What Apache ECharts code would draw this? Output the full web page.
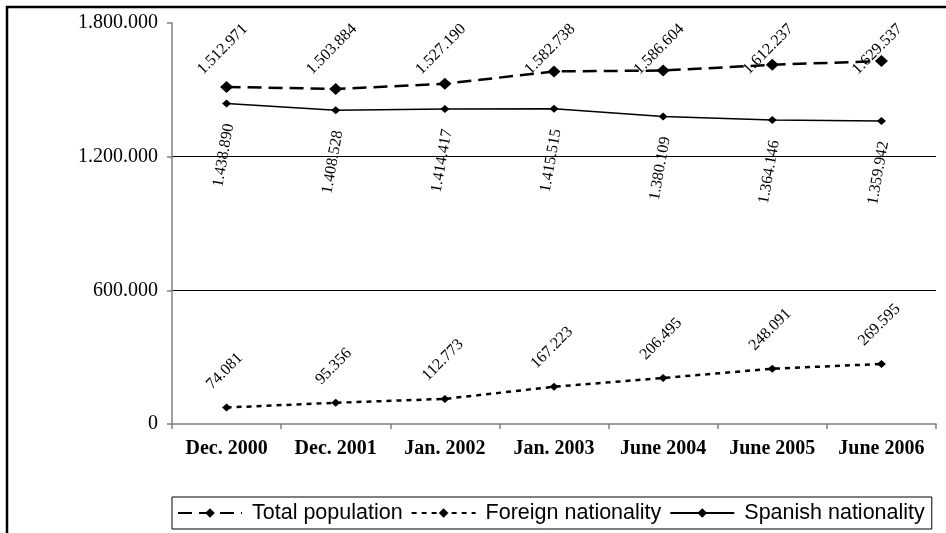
<!DOCTYPE html>
<html>
<head>
<meta charset="utf-8">
<script src="https://cdn.jsdelivr.net/npm/echarts@6/dist/echarts.min.js"></script>
<style>html,body{margin:0;padding:0;background:#fff}#c{width:946px;height:533px}</style>
</head>
<body>
<div id="c"></div>
<script>
const categories = ['Dec. 2000', 'Dec. 2001', 'Jan. 2002', 'Jan. 2003', 'June 2004', 'June 2005', 'June 2006'];
const totalPopulation = [1512971, 1503884, 1527190, 1582738, 1586604, 1612237, 1629537];
const foreignNationality = [74081, 95356, 112773, 167223, 206495, 248091, 269595];
const spanishNationality = [1438890, 1408528, 1414417, 1415515, 1380109, 1364146, 1359942];
const seriesNames = ['Total population', 'Foreign nationality', 'Spanish nationality'];
const yMin = 0, yMax = 1800000, yInterval = 600000;

function fmt(v) { return String(v).replace(/\B(?=(\d{3})+(?!\d))/g, '.'); }

const GRID_TOP = 23;
const serif = 'Liberation Serif, Times New Roman, serif';
const sans = 'Liberation Sans, Arial, sans-serif';

const chart = echarts.init(document.getElementById('c'), null, {renderer: 'canvas'});

const baseLabel = {show: true, formatter: p => fmt(p.value), fontFamily: serif, fontSize: 16, color: '#000', align: 'center', verticalAlign: 'middle'};

chart.setOption({
  animation: false,
  backgroundColor: '#fff',
  grid: {left: 172, right: 10, top: GRID_TOP, bottom: 109, containLabel: false},
  graphic: [{type: 'rect', shape: {x: 7, y: 7, width: 980, height: 580}, style: {fill: 'none', stroke: '#000', lineWidth: 2.5}, silent: true}],
  legend: {
    left: 172, top: 497,
    data: seriesNames,
    itemWidth: 64, itemHeight: 12, itemGap: 8,
    padding: [5, 7, 5, 5],
    borderColor: '#000', borderWidth: 1, borderRadius: 0,
    textStyle: {fontFamily: sans, fontSize: 21.5, color: '#000', padding: [0, 0, 0, 5]},
    selectedMode: false
  },
  xAxis: {
    type: 'category', data: categories, boundaryGap: true,
    axisLine: {lineStyle: {color: '#808080', width: 1.5}},
    axisTick: {show: true, length: 5, lineStyle: {color: '#808080', width: 1.5}},
    axisLabel: {fontFamily: serif, fontWeight: 'bold', fontSize: 20, color: '#000', margin: 15, interval: 0},
    splitLine: {show: false}
  },
  yAxis: {
    type: 'value', min: yMin, max: yMax, interval: yInterval,
    axisLine: {show: true, lineStyle: {color: '#808080', width: 1.5}},
    axisTick: {show: true, length: 5, lineStyle: {color: '#808080', width: 1.5}},
    axisLabel: {fontFamily: serif, fontSize: 20, color: '#000', margin: 14, formatter: v => fmt(v)},
    splitLine: {show: true, showMinLine: false, showMaxLine: false, lineStyle: {color: '#000', width: 1}}
  },
  series: [
    {
      name: seriesNames[0], type: 'line', data: totalPopulation,
      symbol: 'diamond', symbolSize: [13, 12],
      lineStyle: {color: '#000', width: 2.5, type: [14, 7]},
      itemStyle: {color: '#000'},
      label: Object.assign({}, baseLabel, {rotate: 45, position: 'top'}),
      labelLayout: p => {
        const cx = p.rect.x + p.rect.width / 2;
        const h = p.labelRect.height;
        return {x: cx - 4, y: GRID_TOP + h / 2 - 2, align: 'center', verticalAlign: 'middle'};
      },
      z: 3
    },
    {
      name: seriesNames[1], type: 'line', data: foreignNationality,
      symbol: 'diamond', symbolSize: [9, 8],
      lineStyle: {color: '#000', width: 2.5, type: [5, 5]},
      itemStyle: {color: '#000'},
      label: Object.assign({}, baseLabel, {rotate: 45, position: 'top'}),
      labelLayout: p => {
        const cx = p.rect.x + p.rect.width / 2;
        const cy = p.rect.y + p.rect.height / 2;
        const h = p.labelRect.height;
        return {x: cx - 2, y: cy - 15 - h / 2, align: 'center', verticalAlign: 'middle'};
      },
      z: 2
    },
    {
      name: seriesNames[2], type: 'line', data: spanishNationality,
      symbol: 'diamond', symbolSize: [9, 8],
      lineStyle: {color: '#000', width: 1.5, type: 'solid'},
      itemStyle: {color: '#000'},
      label: Object.assign({}, baseLabel, {rotate: 80, position: 'bottom'}),
      labelLayout: p => {
        const cx = p.rect.x + p.rect.width / 2;
        const cy = p.rect.y + p.rect.height / 2;
        const h = p.labelRect.height;
        return {x: cx - 3, y: cy + 19 + h / 2, align: 'center', verticalAlign: 'middle'};
      },
      z: 2
    }
  ]
});
</script>
</body>
</html>
